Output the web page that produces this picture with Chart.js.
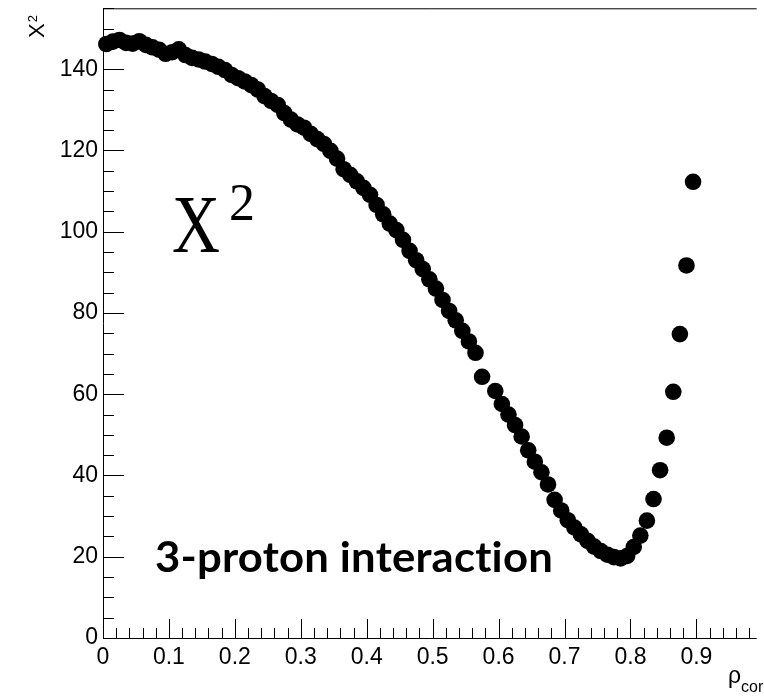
<!DOCTYPE html>
<html>
<head>
<meta charset="utf-8">
<script src="https://cdn.jsdelivr.net/npm/chart.js@4.4.1/dist/chart.umd.min.js"></script>
<style>
  html, body { margin: 0; padding: 0; background: #fff; overflow: hidden; }
  #chart { display: block; }
</style>
</head>
<body>
<canvas id="chart" width="764" height="696"></canvas>
<script>
// scan points (rho_cor, chi2)
const rho = [
  0.005, 0.015, 0.025, 0.035, 0.045, 0.055, 0.065, 0.075, 0.085, 0.095,
  0.105, 0.115, 0.125, 0.135, 0.145, 0.155, 0.165, 0.175, 0.185, 0.195,
  0.205, 0.215, 0.225, 0.235, 0.245, 0.255, 0.265, 0.275, 0.285, 0.295,
  0.305, 0.315, 0.325, 0.335, 0.345, 0.355, 0.365, 0.375, 0.385, 0.395,
  0.405, 0.415, 0.425, 0.435, 0.445, 0.455, 0.465, 0.475, 0.485, 0.495,
  0.505, 0.515, 0.525, 0.535, 0.545, 0.555, 0.565, 0.575,
  0.595, 0.605, 0.615, 0.625, 0.635, 0.645, 0.655, 0.665, 0.675, 0.685,
  0.695, 0.705, 0.715, 0.725, 0.735, 0.745, 0.755, 0.765, 0.775, 0.785,
  0.795, 0.805, 0.815, 0.825, 0.835, 0.845, 0.855, 0.865, 0.875, 0.885, 0.895
];
const chi2 = [
  146.2, 146.8, 147.2, 146.5, 146.3, 146.9, 146.0, 145.4, 144.8, 143.8,
  144.2, 144.9, 143.5, 142.8, 142.4, 141.9, 141.3, 140.6, 139.8, 138.6,
  137.8, 137.0, 136.1, 135.0, 133.4, 132.2, 131.2, 129.2, 127.6, 126.4,
  125.6, 124.1, 122.8, 121.6, 119.9, 118.0, 115.4, 114.0, 112.4, 110.8,
  109.1, 106.6, 104.3, 102.0, 100.4, 98.0, 95.3, 93.0, 90.8, 88.3,
  86.0, 83.2, 80.5, 78.2, 75.6, 73.0, 70.2, 64.3,
  60.8, 57.6, 55.0, 52.4, 49.6, 46.2, 43.4, 40.8, 37.8, 34.0,
  31.4, 29.0, 27.2, 25.5, 23.9, 22.5, 21.4, 20.5, 19.9, 19.6,
  20.2, 22.4, 25.2, 28.9, 34.2, 41.3, 49.3, 60.6, 74.8, 91.7, 112.3
];

const xMajor = [0, 0.1, 0.2, 0.3, 0.4, 0.5, 0.6, 0.7, 0.8, 0.9];
const yMajor = [0, 20, 40, 60, 80, 100, 120, 140];

const points = rho.map((r, i) => ({ x: r, y: chi2[i] }));

// ROOT-like frame with inward ticks, axis titles and the two text labels
const rootStyle = {
  id: 'rootStyle',
  beforeDatasetsDraw(chart) {
    const { ctx, chartArea: a, scales: { x, y } } = chart;
    ctx.save();
    ctx.strokeStyle = '#000';
    ctx.lineWidth = 1;
    ctx.beginPath();
    ctx.moveTo(a.left + 0.5, a.bottom + 0.5);
    ctx.lineTo(a.left + 0.5, a.top + 0.5);
    ctx.lineTo(a.right + 1, a.top + 0.5);
    ctx.moveTo(a.left, a.bottom + 0.5);
    ctx.lineTo(a.right + 1, a.bottom + 0.5);

    // y ticks: major 20, minor 5
    for (let v = 0; v <= 155; v += 5) {
      const py = Math.round(y.getPixelForValue(v)) + 0.5;
      const len = v % 20 === 0 ? 21 : 11;
      ctx.moveTo(a.left, py);
      ctx.lineTo(a.left + len, py);
    }
    // x ticks: major 0.1, minor 0.02
    for (let i = 0; i <= 49; i++) {
      const px = Math.round(x.getPixelForValue(i * 0.02)) + 0.5;
      const len = i % 5 === 0 ? 19 : 10;
      ctx.moveTo(px, a.bottom);
      ctx.lineTo(px, a.bottom - len);
    }
    ctx.stroke();
    ctx.restore();
  },
  afterDraw(chart) {
    const { ctx } = chart;
    ctx.save();
    ctx.fillStyle = '#000';
    ctx.textBaseline = 'alphabetic';
    ctx.textAlign = 'left';

    // y axis title, rotated
    ctx.save();
    ctx.translate(44, 38);
    ctx.rotate(-Math.PI / 2);
    ctx.font = '22px "Liberation Sans", Arial, sans-serif';
    ctx.fillText('X', 0, 0);
    const wX = ctx.measureText('X').width;
    ctx.font = '13px "Liberation Sans", Arial, sans-serif';
    ctx.fillText('2', wX + 1, -7);
    ctx.restore();

    // x axis title
    ctx.font = '23px "Liberation Sans", Arial, sans-serif';
    ctx.fillText('ρ', 728, 683);
    ctx.font = '16px "Liberation Sans", Arial, sans-serif';
    ctx.fillText('cor', 741, 692);

    // big chi2 label
    ctx.save();
    ctx.translate(172, 252);
    ctx.scale(0.8, 1);
    ctx.font = '83px "Liberation Serif", "Times New Roman", serif';
    ctx.fillText('X', 0, 0);
    ctx.restore();
    ctx.font = '52px "Liberation Serif", "Times New Roman", serif';
    ctx.fillText('2', 229, 220);

    // annotation
    ctx.save();
    ctx.font = 'bold 42px Lato, "Open Sans", sans-serif';
    ctx.letterSpacing = '0.2px';
    const label = '3-proton interaction';
    const w = ctx.measureText(label).width;
    ctx.translate(155, 572);
    ctx.scale(398 / w, 1);
    ctx.fillText(label, 0, 0);
    ctx.restore();

    ctx.restore();
  }
};

const tickFont = { family: '"Liberation Sans", Arial, sans-serif', size: 23 };

new Chart(document.getElementById('chart'), {
  type: 'scatter',
  data: {
    datasets: [{
      data: points,
      backgroundColor: '#000',
      borderColor: '#000',
      borderWidth: 0,
      pointRadius: 8.3,
      pointHoverRadius: 8.3,
      clip: false
    }]
  },
  options: {
    responsive: false,
    devicePixelRatio: 1,
    animation: false,
    events: [],
    layout: { padding: { top: 7, right: 0, left: 0, bottom: 0 } },
    plugins: { legend: { display: false }, tooltip: { enabled: false } },
    scales: {
      x: {
        type: 'linear',
        min: 0,
        max: 0.99,
        grid: { display: false, drawTicks: false },
        border: { display: false },
        afterFit: (s) => { s.height = 58; s.paddingLeft = 0; s.paddingRight = 0; },
        afterBuildTicks: (s) => { s.ticks = xMajor.map(v => ({ value: v })); },
        ticks: {
          font: tickFont,
          color: '#000',
          padding: 6,
          maxRotation: 0,
          autoSkip: false,
          callback: (v) => (v === 0 ? '0' : v.toFixed(1))
        }
      },
      y: {
        type: 'linear',
        min: 0,
        max: 155,
        grid: { display: false, drawTicks: false },
        border: { display: false },
        afterFit: (s) => { s.width = 103; s.paddingTop = 0; s.paddingBottom = 0; },
        afterBuildTicks: (s) => { s.ticks = yMajor.map(v => ({ value: v })); },
        ticks: {
          font: tickFont,
          color: '#000',
          padding: 5,
          callback: (v) => String(v)
        }
      }
    }
  },
  plugins: [rootStyle]
});
</script>
</body>
</html>
